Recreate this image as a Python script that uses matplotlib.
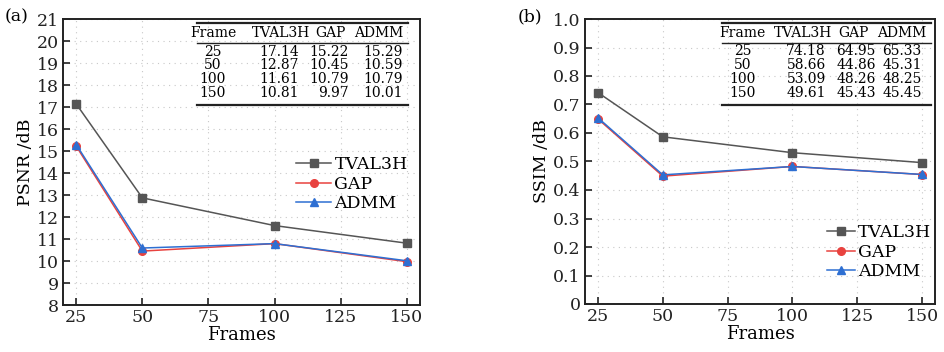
import matplotlib
matplotlib.use("Agg")
import matplotlib.pyplot as plt
from matplotlib.ticker import MultipleLocator, FuncFormatter
from matplotlib.lines import Line2D

plt.rcParams['font.family'] = ['DejaVu Serif']
plt.rcParams['mathtext.fontset'] = 'dejavuserif'

frames = [25, 50, 100, 150]
methods = ["TVAL3H", "GAP", "ADMM"]
psnr_tval3h = [17.14, 12.87, 11.61, 10.81]
psnr_gap = [15.22, 10.45, 10.79, 9.97]
psnr_admm = [15.29, 10.59, 10.79, 10.01]
ssim_tval3h = [0.7418, 0.5866, 0.5309, 0.4961]
ssim_gap = [0.6495, 0.4486, 0.4826, 0.4543]
ssim_admm = [0.6533, 0.4531, 0.4825, 0.4545]
xticks = [25, 50, 75, 100, 125, 150]

colors = ["#555555", "#e8423f", "#2e6fd2"]
markers = ["s", "o", "^"]

fig = plt.figure(figsize=(9.44, 3.52), dpi=100)
W, H = 944, 352


def add_ax(x0, y0, x1, y1):
    return fig.add_axes([x0 / W, 1 - y1 / H, (x1 - x0) / W, (y1 - y0) / H])


axA = add_ax(63, 19, 420, 305)
axB = add_ax(585, 19, 935, 304)

FS = 12.5


def style(ax):
    for s in ax.spines.values():
        s.set_linewidth(1.4)
        s.set_color("#222222")
    ax.tick_params(direction="in", length=5, width=1.2, labelsize=FS, colors="#222222", pad=3)
    ax.set_xlim(20, 155)
    ax.set_xticks(xticks)
    ax.grid(True, linestyle=(0, (1, 4)), color="#c8c8c8", linewidth=0.8)
    ax.set_axisbelow(True)
    ax.set_xlabel("Frames", fontsize=FS + 0.5, labelpad=0)


def draw_table(ax, series, fmt, col_x_hdr, col_x_num, frame_x, x0, x1):
    tr = ax.transAxes
    y_top, y_hdr_rule, y_bot = 0.986, 0.916, 0.699
    y_hdr = 0.951
    y_rows = [0.886, 0.838, 0.789, 0.741]
    for y, lw in [(y_top, 1.6), (y_hdr_rule, 1.0), (y_bot, 1.6)]:
        ax.add_line(Line2D([x0, x1], [y, y], transform=tr, color="#222222", lw=lw, clip_on=False))
    tfs = 10
    ax.text(frame_x, y_hdr, "Frame", transform=tr, ha="center", va="center", fontsize=tfs)
    for name, cx in zip(methods, col_x_hdr):
        ax.text(cx, y_hdr, name, transform=tr, ha="center", va="center", fontsize=tfs)
    for i, f in enumerate(frames):
        ax.text(frame_x, y_rows[i], str(f), transform=tr, ha="center", va="center", fontsize=tfs)
        for vals, cx in zip(series, col_x_num):
            ax.text(cx, y_rows[i], fmt(vals[i]), transform=tr, ha="right", va="center", fontsize=tfs)


# Panel (a)
style(axA)
for vals, c, m, lab in zip([psnr_tval3h, psnr_gap, psnr_admm], colors, markers, methods):
    axA.plot(frames, vals, color=c, marker=m, markersize=5.5, linewidth=1.1, label=lab)
axA.set_ylim(8, 21)
axA.yaxis.set_major_locator(MultipleLocator(1))
axA.set_ylabel("PSNR /dB", fontsize=FS, labelpad=2)
axA.legend(loc="upper right", bbox_to_anchor=(0.985, 0.545), frameon=False, fontsize=FS,
           handlelength=2.0, handletextpad=0.2, labelspacing=0.15, borderaxespad=0)
draw_table(axA, [psnr_tval3h, psnr_gap, psnr_admm], lambda v: f"{v:.2f}",
           [0.61, 0.75, 0.885], [0.66, 0.80, 0.952], 0.42, 0.375, 0.966)

# Panel (b)
style(axB)
for vals, c, m, lab in zip([ssim_tval3h, ssim_gap, ssim_admm], colors, markers, methods):
    axB.plot(frames, vals, color=c, marker=m, markersize=5.5, linewidth=1.1, label=lab)
axB.set_ylim(0, 1.0)
axB.yaxis.set_major_locator(MultipleLocator(0.1))
axB.yaxis.set_major_formatter(FuncFormatter(lambda v, p: "0" if abs(v) < 1e-9 else f"{v:.1f}"))
axB.set_ylabel("SSIM /dB", fontsize=FS, labelpad=2)
axB.legend(loc="upper right", bbox_to_anchor=(1.01, 0.305), frameon=False, fontsize=FS,
           handlelength=1.6, handletextpad=0.2, labelspacing=0.15, borderaxespad=0)
draw_table(axB, [ssim_tval3h, ssim_gap, ssim_admm], lambda v: f"{v * 100:.2f}",
           [0.623, 0.766, 0.906], [0.688, 0.831, 0.962], 0.451, 0.391, 0.989)

fig.text(5 / W, 1 - 17 / H, "(a)", fontsize=FS, ha="left", va="center")
fig.text(518 / W, 1 - 17 / H, "(b)", fontsize=FS, ha="left", va="center")

fig.savefig("out.png", dpi=100)
